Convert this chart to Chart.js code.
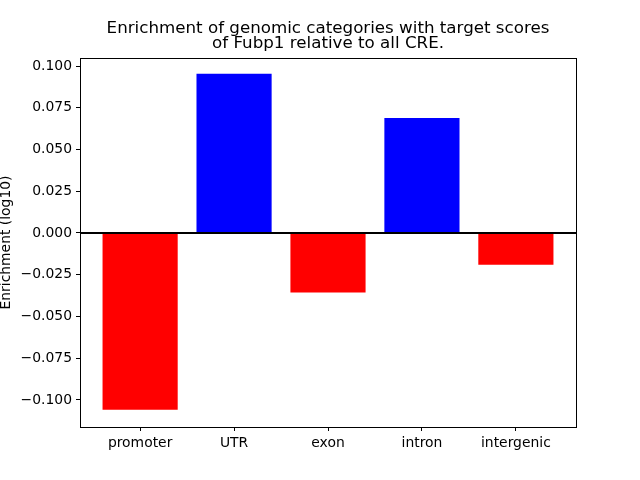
<!DOCTYPE html>
<html>
<head>
<meta charset="utf-8">
<script src="https://cdn.jsdelivr.net/npm/chart.js@4.4.1/dist/chart.umd.min.js"></script>
<style>
  html, body { margin: 0; padding: 0; background: #fff; }
  #wrap { width: 640px; height: 480px; }
</style>
</head>
<body>
<div id="wrap"><canvas id="enrichChart" width="640" height="480"></canvas></div>
<script>
// categories and log10 enrichment values
const categories = ['promoter', 'UTR', 'exon', 'intron', 'intergenic'];
const enrichment = [-0.1058, 0.0953, -0.0357, 0.0688, -0.0190];
const yTicks = [-0.100, -0.075, -0.050, -0.025, 0.000, 0.025, 0.050, 0.075, 0.100];
const titleLines = ['Enrichment of genomic categories with target scores', 'of Fubp1 relative to all CRE.'];
const yLabel = 'Enrichment (log10)';

const FONT = '"DejaVu Sans", sans-serif';

// Frame, zero line, title and y label drawn like matplotlib
const decorPlugin = {
    id: 'decor',
    afterDatasetsDraw(chart) {
        const { ctx, chartArea: a, scales } = chart;
        ctx.save();
        // zero line
        const y0 = scales.y.getPixelForValue(0);
        ctx.strokeStyle = '#000';
        ctx.lineWidth = 2;
        ctx.beginPath();
        ctx.moveTo(a.left, y0);
        ctx.lineTo(a.right, y0);
        ctx.stroke();
        // axes box
        ctx.lineWidth = 1;
        ctx.strokeRect(a.left + 0.5, a.top + 0.5, a.right - a.left, a.bottom - a.top);
        // title
        ctx.fillStyle = '#000';
        ctx.font = '16.7px ' + FONT;
        ctx.textAlign = 'center';
        ctx.textBaseline = 'alphabetic';
        const cx = (a.left + a.right) / 2;
        ctx.fillText(titleLines[0], cx, 33);
        ctx.fillText(titleLines[1], cx, 48);
        // y label
        ctx.font = '13.9px ' + FONT;
        ctx.translate(6, (a.top + a.bottom) / 2);
        ctx.rotate(-Math.PI / 2);
        ctx.textBaseline = 'middle';
        ctx.fillText(yLabel, 0, 0);
        ctx.restore();
    }
};

function fmt(v) {
    const s = Math.abs(v).toFixed(3);
    return v < -1e-9 ? '\u2212' + s : s;
}

new Chart(document.getElementById('enrichChart'), {
    type: 'bar',
    data: {
        datasets: [{
            data: enrichment.map((v, i) => ({ x: i, y: v })),
            backgroundColor: enrichment.map(v => v >= 0 ? '#0000ff' : '#ff0000'),
            borderWidth: 0,
            barPercentage: 0.8,
            categoryPercentage: 1.0
        }]
    },
    options: {
        responsive: false,
        animation: false,
        layout: { padding: { top: 58, right: 64, left: 0, bottom: 0 } },
        plugins: { legend: { display: false }, tooltip: { enabled: false } },
        scales: {
            x: {
                type: 'linear',
                min: -0.64,
                max: 4.64,
                offset: false,
                afterBuildTicks: axis => { axis.ticks = categories.map((c, i) => ({ value: i })); },
                afterFit: axis => { axis.height = 53; },
                grid: { drawOnChartArea: false, offset: false, color: '#000', tickLength: 4, tickWidth: 1 },
                border: { display: false },
                ticks: {
                    color: '#000',
                    font: { family: FONT, size: 13.9 },
                    padding: 4,
                    maxRotation: 0,
                    autoSkip: false,
                    callback: v => categories[v]
                }
            },
            y: {
                min: -0.1162,
                max: 0.1048,
                afterBuildTicks: axis => { axis.ticks = yTicks.map(v => ({ value: v })); },
                afterFit: axis => { axis.width = 80; },
                grid: { drawOnChartArea: false, color: '#000', tickLength: 4, tickWidth: 1 },
                border: { display: false },
                ticks: {
                    color: '#000',
                    font: { family: FONT, size: 13.9 },
                    padding: 4,
                    autoSkip: false,
                    callback: v => fmt(v)
                }
            }
        }
    },
    plugins: [decorPlugin]
});
</script>
</body>
</html>
